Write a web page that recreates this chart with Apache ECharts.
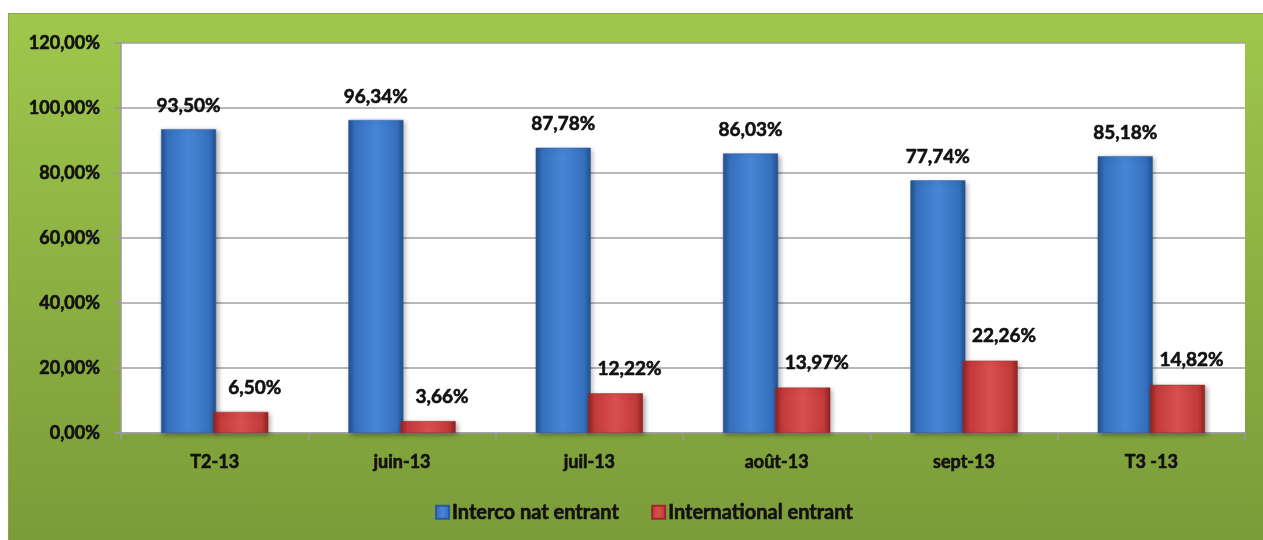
<!DOCTYPE html>
<html>
<head>
<meta charset="utf-8">
<script src="https://cdn.jsdelivr.net/npm/echarts@6/dist/echarts.min.js"></script>
<style>
  html, body { margin: 0; padding: 0; background: #ffffff; }
  #frame {
    position: absolute; left: 8px; top: 13px; width: 1262px; height: 540px;
    background: linear-gradient(to bottom, #9fc74c 0%, #8cb042 50%, #7a9a38 100%);
    border-top: 1px solid #8aa84a; border-left: 1px solid #8aa84a;
  }
  #chart { position: absolute; left: 0; top: 0; width: 1263px; height: 540px; }
</style>
</head>
<body>
<div id="frame"></div>
<div id="chart"></div>
<script>
// categories and values (in %)
var categories = ['T2-13', 'juin-13', 'juil-13', 'août-13', 'sept-13', 'T3 -13']
var intercoNat = [93.50, 96.34, 87.78, 86.03, 77.74, 85.18]
var international = [6.50, 3.66, 12.22, 13.97, 22.26, 14.82]
var seriesNames = ['Interco nat entrant', 'International entrant']

var FONT = 'Lato'
// heavy black text, a thin outline in the same colour thickens the bold face
var boldText = {
  fontFamily: FONT,
  fontWeight: 'bold',
  color: '#111',
  textBorderColor: '#111',
  textBorderWidth: 0.6
}

function pct(v) {
  return v.toFixed(2).replace('.', ',') + '%'
}

function barFill(dark, mid, light) {
  return new echarts.graphic.LinearGradient(0, 0, 1, 0, [
    { offset: 0, color: dark },
    { offset: 0.12, color: mid },
    { offset: 0.5, color: light },
    { offset: 0.88, color: mid },
    { offset: 1, color: dark }
  ])
}

var chart = echarts.init(document.getElementById('chart'))
chart.setOption({
  backgroundColor: 'transparent',
  textStyle: { fontFamily: FONT },
  grid: {
    left: 121,
    right: 18,
    top: 43,
    bottom: 107,
    show: true,
    backgroundColor: '#ffffff',
    borderWidth: 0
  },
  legend: {
    data: seriesNames,
    top: 497,
    left: 430,
    itemWidth: 13,
    itemHeight: 13,
    itemGap: 32,
    icon: 'rect',
    textStyle: Object.assign({ fontSize: 20, padding: [0, 0, 0, -2] }, boldText)
  },
  xAxis: {
    type: 'category',
    data: categories,
    axisLine: { lineStyle: { color: '#9a9a9a', width: 1.5 } },
    axisTick: { show: true, length: 7, lineStyle: { color: '#9a9a9a', width: 1.5 } },
    axisLabel: Object.assign({ margin: 20, fontSize: 18 }, boldText)
  },
  yAxis: {
    type: 'value',
    min: 0,
    max: 120,
    interval: 20,
    axisLine: { show: true, lineStyle: { color: '#9a9a9a', width: 1.5 } },
    axisTick: { show: true, length: 7, lineStyle: { color: '#9a9a9a', width: 1.5 } },
    splitLine: { lineStyle: { color: '#a0a0a0', width: 1.5 } },
    axisLabel: Object.assign({ margin: 21, fontSize: 18, formatter: pct }, boldText)
  },
  series: [
    {
      name: seriesNames[0],
      type: 'bar',
      data: intercoNat,
      barWidth: 55,
      barGap: '-5%',
      itemStyle: {
        color: barFill('#234f8c', '#3570bd', '#4786d6'),
        borderColor: '#2a5a9c',
        borderWidth: 0.5,
        shadowColor: 'rgba(0,0,0,0.35)',
        shadowBlur: 5,
        shadowOffsetX: 2,
        shadowOffsetY: 2
      },
      label: Object.assign({
        show: true,
        position: 'top',
        distance: 14,
        fontSize: 19,
        formatter: function (p) { return pct(p.value) }
      }, boldText)
    },
    {
      name: seriesNames[1],
      type: 'bar',
      data: international,
      barWidth: 55,
      itemStyle: {
        color: barFill('#8e2222', '#c23a3a', '#da5050'),
        borderColor: '#9a2a2a',
        borderWidth: 0.5,
        shadowColor: 'rgba(0,0,0,0.35)',
        shadowBlur: 5,
        shadowOffsetX: 2,
        shadowOffsetY: 2
      },
      label: Object.assign({
        show: true,
        position: 'top',
        distance: 15,
        offset: [14, 0],
        fontSize: 19,
        formatter: function (p) { return pct(p.value) }
      }, boldText)
    }
  ]
})
</script>
</body>
</html>
